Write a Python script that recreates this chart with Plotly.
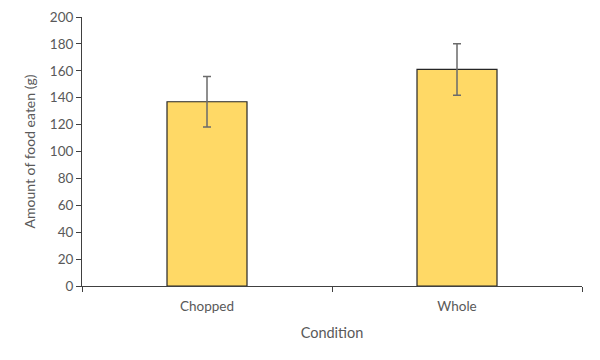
import plotly.graph_objects as go

categories = ["Chopped", "Whole"]
values = [137, 161]
errors = [18.7, 19.2]
y_ticks = list(range(0, 201, 20))

fig = go.Figure(go.Bar(
    x=categories, y=values,
    marker=dict(color="#FFD966", line=dict(color="#262626", width=1.2)),
    error_y=dict(type="data", array=errors, visible=True, color="#6b6b6b", thickness=1.5, width=4),
    width=0.32,
))

font_family = "Lato, 'Open Sans', sans-serif"
# page has an 8px body margin, so the figure is offset by 8px
fig.update_layout(
    width=592, height=352,
    margin=dict(l=74, r=18, t=9, b=74),
    plot_bgcolor="white", paper_bgcolor="white",
    showlegend=False,
    font=dict(family=font_family, size=13, color="#595959"),
)
fig.update_xaxes(
    automargin=False,
    showline=True, linecolor="#404040", linewidth=1,
    ticks="outside", tickson="boundaries", ticklen=5, tickcolor="#404040",
    ticklabelstandoff=8,
    showgrid=False,
    title=dict(text="Condition", font=dict(size=14.5, color="#595959"), standoff=14),
    tickfont=dict(size=13.5, color="#595959"),
)
fig.update_yaxes(
    automargin=False,
    range=[0, 200], tickvals=y_ticks,
    showline=True, linecolor="#404040", linewidth=1,
    ticks="outside", ticklen=5, tickcolor="#404040",
    showgrid=False, zeroline=False,
    title=dict(text="Amount of food eaten (g)", font=dict(size=14, color="#595959"), standoff=10),
    tickfont=dict(size=13.5, color="#595959"),
)
fig.write_html("out.html")
